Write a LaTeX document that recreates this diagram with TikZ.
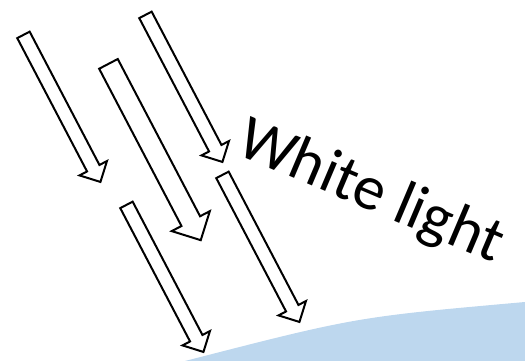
\documentclass[tikz,border=0pt]{standalone}
\usepackage{fontspec}
\setmainfont{Carlito}
\usetikzlibrary{shapes.arrows}
\definecolor{waterblue}{RGB}{189,215,238}
\tikzset{
  lightray/.style={shape=single arrow, draw=black, fill=white, line width=2pt,
    inner xsep=0pt, inner ysep=6pt, minimum width=0pt, minimum height=166pt,
    single arrow head extend=8.5pt, single arrow tip angle=90,
    rotate=-62.37, anchor=tail},
  bigray/.style={lightray, inner ysep=9.5pt, minimum height=199pt,
    single arrow head extend=11pt},
  labeltext/.style={inner sep=0pt, anchor=base west, rotate=-23,
    font=\fontsize{63}{63}\selectfont}
}
\begin{document}
\begin{tikzpicture}[x=1pt,y=-1pt]
  \useasboundingbox (0,0) rectangle (525,361);
  \fill[waterblue] (185,361) .. controls (356,317) .. (525,302) -- (525,361) -- cycle;
  \node[lightray] (r1) at (23,34) {};
  \node[bigray]   (r2) at (108,63) {};
  \node[lightray] (r3) at (145,14) {};
  \node[lightray] (r4) at (126,204) {};
  \node[lightray] (r5) at (222,174) {};
  \node[labeltext] (label) at (234,153) {White light};
\end{tikzpicture}
\end{document}
